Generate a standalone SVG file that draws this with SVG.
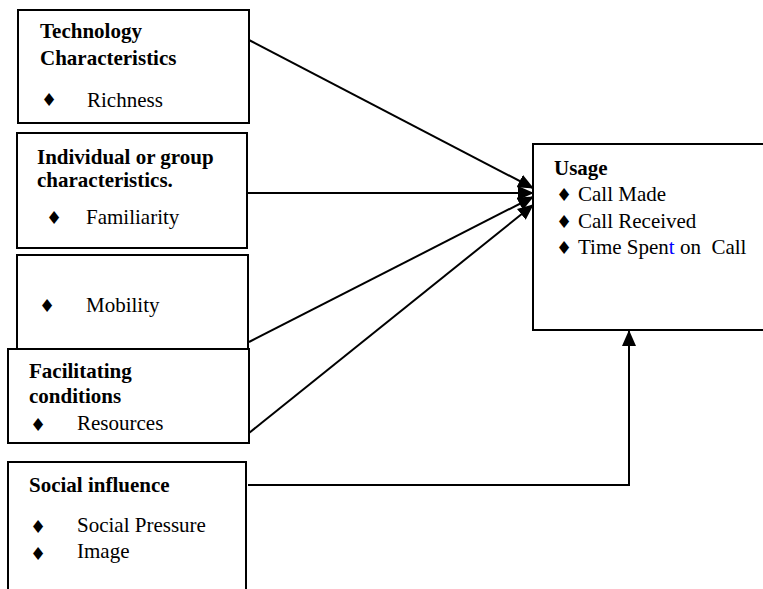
<svg xmlns="http://www.w3.org/2000/svg" width="763" height="589" viewBox="0 0 763 589">
<style>
.box{fill:#fff;stroke:#000;stroke-width:2}
.t{font-family:'Liberation Serif','Times New Roman',serif;font-size:21px;fill:#000}
.b{font-weight:bold}
.bul{font-family:'DejaVu Sans',sans-serif;font-size:18px;fill:#000}
.c{fill:none;stroke:#000;stroke-width:2}
</style>
<defs>
<marker id="ah" markerUnits="userSpaceOnUse" markerWidth="16" markerHeight="14" refX="15" refY="7" orient="auto">
<path d="M0,0 L16,7 L0,14 Z" fill="#000"/>
</marker>
</defs>
<rect x="0" y="0" width="763" height="589" fill="#fff"/>
<g id="usage">
<rect class="box" x="533" y="144" width="240" height="186"/>
<text class="t b" x="554" y="175">Usage</text>
<text class="bul" x="556" y="201">♦</text>
<text class="t" x="578" y="201">Call Made</text>
<text class="bul" x="556" y="228">♦</text>
<text class="t" x="578" y="228">Call Received</text>
<text class="bul" x="556" y="254">♦</text>
<text class="t" x="578" y="254" xml:space="preserve">Time Spen<tspan fill="#0000ff">t</tspan> on  Call</text>
</g>
<g id="technology">
<rect class="box" x="18" y="10" width="231" height="113"/>
<text class="t b" x="40" y="38">Technology</text>
<text class="t b" x="40" y="65">Characteristics</text>
<text class="bul" x="41" y="106">♦</text>
<text class="t" x="87" y="107">Richness</text>
</g>
<g id="individual">
<rect class="box" x="17" y="133" width="230" height="115"/>
<text class="t b" x="37" y="164">Individual or group</text>
<text class="t b" x="37" y="187">characteristics.</text>
<text class="bul" x="46" y="224">♦</text>
<text class="t" x="86" y="224">Familiarity</text>
</g>
<g id="mobility">
<rect class="box" x="17" y="255" width="231" height="94"/>
<text class="bul" x="39" y="312">♦</text>
<text class="t" x="86" y="312">Mobility</text>
</g>
<g id="facilitating">
<rect class="box" x="8" y="349" width="241" height="94"/>
<text class="t b" x="29" y="378">Facilitating</text>
<text class="t b" x="29" y="403">conditions</text>
<text class="bul" x="30" y="431">♦</text>
<text class="t" x="77" y="430">Resources</text>
</g>
<g id="social">
<rect class="box" x="8" y="462" width="238" height="140"/>
<text class="t b" x="29" y="492">Social influence</text>
<text class="bul" x="30" y="533">♦</text>
<text class="t" x="77" y="532">Social Pressure</text>
<text class="bul" x="30" y="560">♦</text>
<text class="t" x="77" y="558">Image</text>
</g>
<g id="connectors">
<line class="c" x1="249" y1="40" x2="533" y2="188" marker-end="url(#ah)"/>
<line class="c" x1="247" y1="193" x2="533" y2="193" marker-end="url(#ah)"/>
<line class="c" x1="249" y1="342" x2="533" y2="197" marker-end="url(#ah)"/>
<line class="c" x1="249" y1="433" x2="533" y2="205" marker-end="url(#ah)"/>
<polyline class="c" points="248,485 629,485 629,331" marker-end="url(#ah)"/>
</g>
</svg>
